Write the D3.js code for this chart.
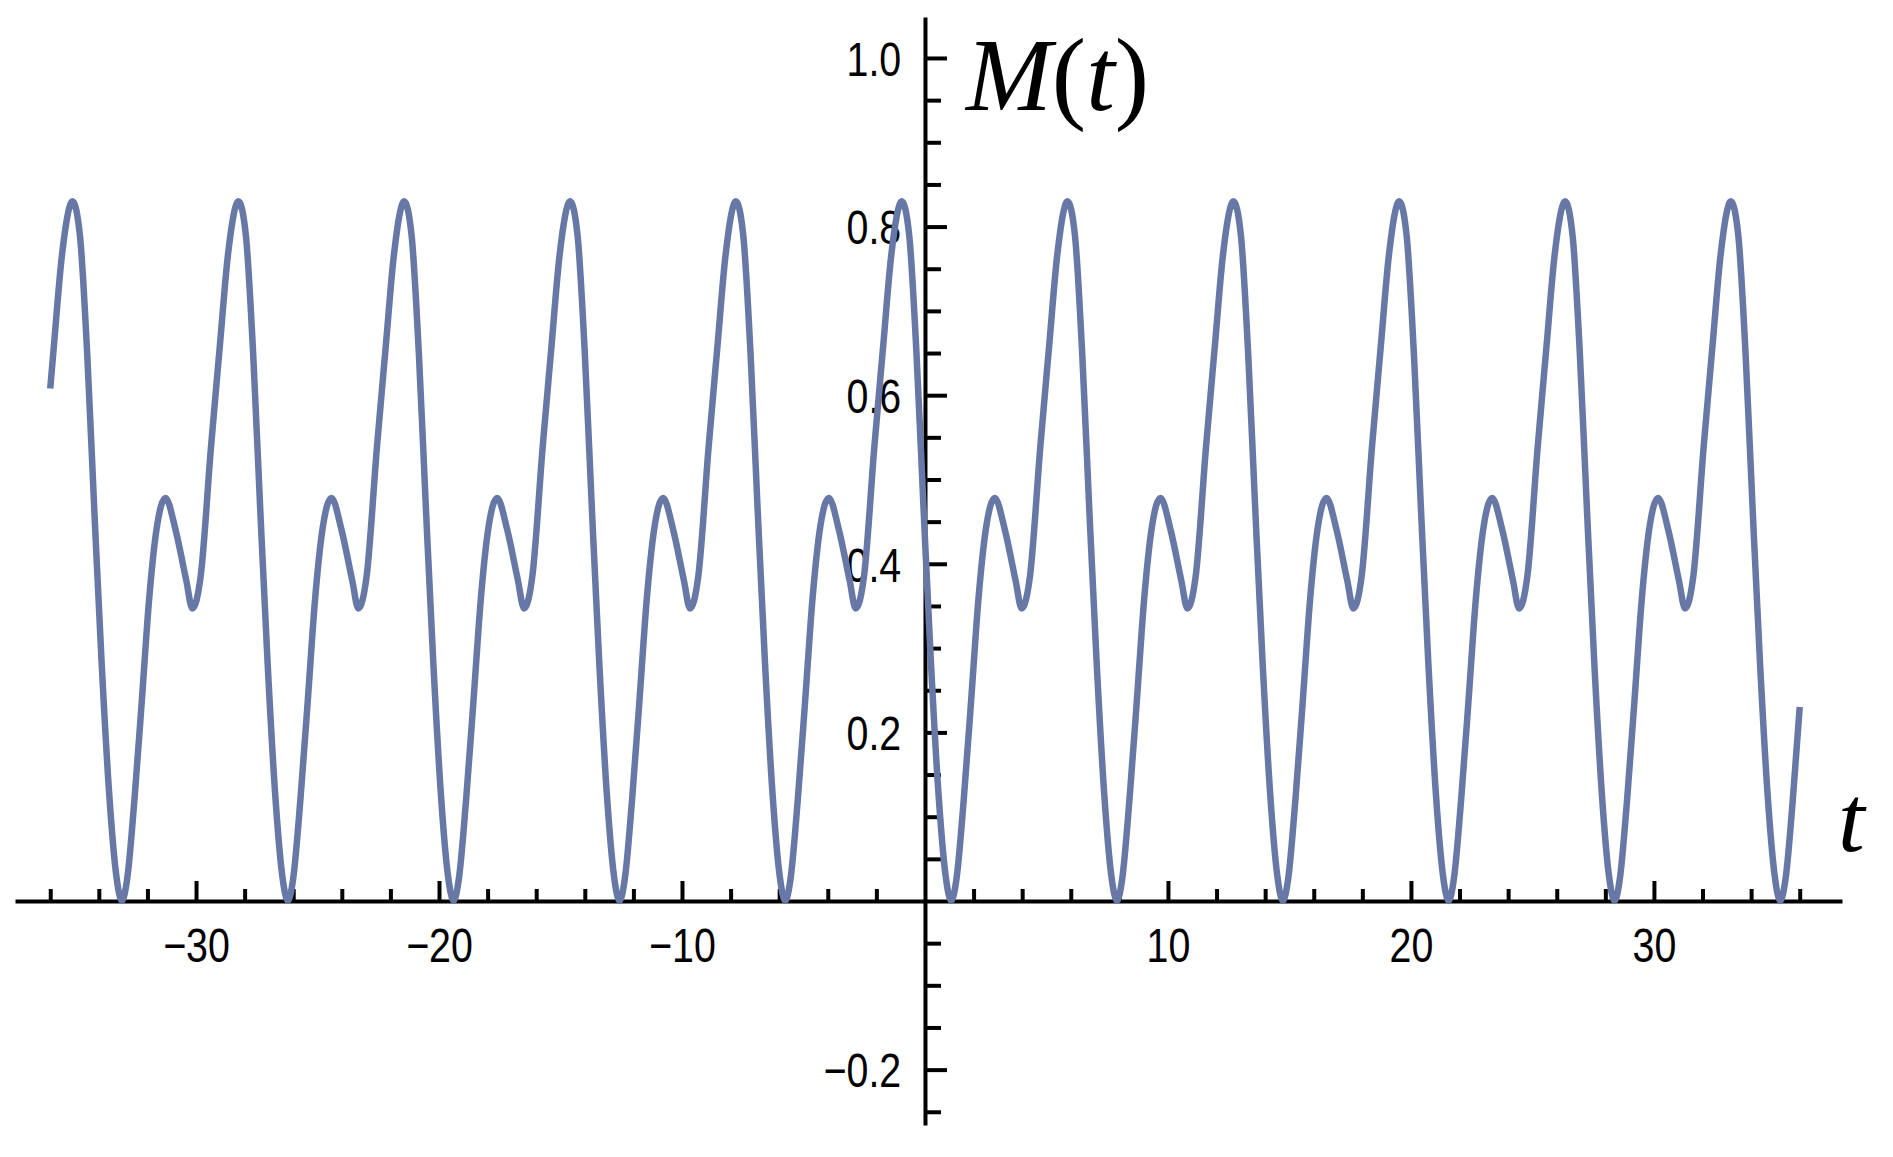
<!DOCTYPE html>
<html>
<head>
<meta charset="utf-8">
<script src="https://cdn.jsdelivr.net/npm/d3@7"></script>
<style>
html, body { margin: 0; padding: 0; background: #ffffff; }
svg { display: block; }
</style>
</head>
<body>
<svg id="chart" width="1893" height="1157"></svg>
<script>
// ---- data ----
const tValues = [
  -36.00, -35.86, -35.51,
  -35.08, -34.78, -34.48, -34.18, -33.88, -33.58, -33.28, -33.05, -32.83, -32.53, -32.23, -31.93, -31.63, -31.26, -30.84, -30.40, -30.15, -29.81, -29.38, -29.03, -28.68,
  -28.25, -27.95, -27.65, -27.35, -27.05, -26.75, -26.45, -26.22, -26.00, -25.70, -25.40, -25.10, -24.80, -24.43, -24.01, -23.57, -23.32, -22.98, -22.55, -22.20, -21.85,
  -21.43, -21.13, -20.83, -20.53, -20.23, -19.93, -19.63, -19.40, -19.18, -18.88, -18.58, -18.28, -17.98, -17.61, -17.19, -16.75, -16.50, -16.16, -15.73, -15.38, -15.03,
  -14.60, -14.30, -14.00, -13.70, -13.40, -13.10, -12.80, -12.57, -12.35, -12.05, -11.75, -11.45, -11.15, -10.78, -10.36, -9.92, -9.67, -9.33, -8.90, -8.55, -8.20,
  -7.78, -7.48, -7.18, -6.88, -6.58, -6.28, -5.98, -5.75, -5.53, -5.23, -4.93, -4.63, -4.33, -3.96, -3.54, -3.10, -2.85, -2.51, -2.08, -1.73, -1.38,
  -0.95, -0.65, -0.35, -0.05, 0.25, 0.55, 0.85, 1.08, 1.30, 1.60, 1.90, 2.20, 2.50, 2.87, 3.29, 3.73, 3.98, 4.32, 4.75, 5.10, 5.45,
  5.87, 6.17, 6.47, 6.77, 7.07, 7.37, 7.67, 7.90, 8.12, 8.42, 8.72, 9.02, 9.32, 9.69, 10.11, 10.55, 10.80, 11.14, 11.57, 11.92, 12.27,
  12.70, 13.00, 13.30, 13.60, 13.90, 14.20, 14.50, 14.73, 14.95, 15.25, 15.55, 15.85, 16.15, 16.52, 16.94, 17.38, 17.63, 17.97, 18.40, 18.75, 19.10,
  19.52, 19.82, 20.12, 20.42, 20.72, 21.02, 21.32, 21.55, 21.77, 22.07, 22.37, 22.67, 22.97, 23.34, 23.76, 24.20, 24.45, 24.79, 25.22, 25.57, 25.92,
  26.35, 26.65, 26.95, 27.25, 27.55, 27.85, 28.15, 28.38, 28.60, 28.90, 29.20, 29.50, 29.80, 30.17, 30.59, 31.03, 31.28, 31.62, 32.05, 32.40, 32.75,
  33.17, 33.47, 33.77, 34.07, 34.37, 34.67, 34.97, 35.20, 35.42, 35.72, 36.00
];
const mValues = [
  0.608, 0.655, 0.768,
  0.830, 0.790, 0.650, 0.460, 0.280, 0.130, 0.030, 0.000, 0.027, 0.122, 0.238, 0.358, 0.440, 0.478, 0.440, 0.380, 0.347, 0.385, 0.540, 0.655, 0.768,
  0.830, 0.790, 0.650, 0.460, 0.280, 0.130, 0.030, 0.000, 0.027, 0.122, 0.238, 0.358, 0.440, 0.478, 0.440, 0.380, 0.347, 0.385, 0.540, 0.655, 0.768,
  0.830, 0.790, 0.650, 0.460, 0.280, 0.130, 0.030, 0.000, 0.027, 0.122, 0.238, 0.358, 0.440, 0.478, 0.440, 0.380, 0.347, 0.385, 0.540, 0.655, 0.768,
  0.830, 0.790, 0.650, 0.460, 0.280, 0.130, 0.030, 0.000, 0.027, 0.122, 0.238, 0.358, 0.440, 0.478, 0.440, 0.380, 0.347, 0.385, 0.540, 0.655, 0.768,
  0.830, 0.790, 0.650, 0.460, 0.280, 0.130, 0.030, 0.000, 0.027, 0.122, 0.238, 0.358, 0.440, 0.478, 0.440, 0.380, 0.347, 0.385, 0.540, 0.655, 0.768,
  0.830, 0.790, 0.650, 0.460, 0.280, 0.130, 0.030, 0.000, 0.027, 0.122, 0.238, 0.358, 0.440, 0.478, 0.440, 0.380, 0.347, 0.385, 0.540, 0.655, 0.768,
  0.830, 0.790, 0.650, 0.460, 0.280, 0.130, 0.030, 0.000, 0.027, 0.122, 0.238, 0.358, 0.440, 0.478, 0.440, 0.380, 0.347, 0.385, 0.540, 0.655, 0.768,
  0.830, 0.790, 0.650, 0.460, 0.280, 0.130, 0.030, 0.000, 0.027, 0.122, 0.238, 0.358, 0.440, 0.478, 0.440, 0.380, 0.347, 0.385, 0.540, 0.655, 0.768,
  0.830, 0.790, 0.650, 0.460, 0.280, 0.130, 0.030, 0.000, 0.027, 0.122, 0.238, 0.358, 0.440, 0.478, 0.440, 0.380, 0.347, 0.385, 0.540, 0.655, 0.768,
  0.830, 0.790, 0.650, 0.460, 0.280, 0.130, 0.030, 0.000, 0.027, 0.122, 0.238, 0.358, 0.440, 0.478, 0.440, 0.380, 0.347, 0.385, 0.540, 0.655, 0.768,
  0.830, 0.790, 0.650, 0.460, 0.280, 0.130, 0.030, 0.000, 0.027, 0.122, 0.230
];
const xDomain = [-37.45, 37.74];
const yDomain = [-0.2657, 1.0486];
const xMajorTicks = [-30, -20, -10, 10, 20, 30];
const xMajorLabels = ["\u221230", "\u221220", "\u221210", "10", "20", "30"];
const xMinorTicks = [-36, -34, -32, -28, -26, -24, -22, -18, -16, -14, -12, -8, -6, -4, -2,
                     2, 4, 6, 8, 12, 14, 16, 18, 22, 24, 26, 28, 32, 34, 36];
const yMajorTicks = [-0.2, 0.2, 0.4, 0.6, 0.8, 1.0];
const yMajorLabels = ["\u22120.2", "0.2", "0.4", "0.6", "0.8", "1.0"];
const yMinorTicks = [-0.25, -0.15, -0.10, -0.05, 0.05, 0.10, 0.15, 0.25, 0.30, 0.35,
                     0.45, 0.50, 0.55, 0.65, 0.70, 0.75, 0.85, 0.90, 0.95];
const xAxisTitle = "t";

// ---- drawing ----
const svg = d3.select("#chart");
svg.append("rect").attr("width", 1893).attr("height", 1157).attr("fill", "#ffffff");

const x = d3.scaleLinear().domain(xDomain).range([15, 1842]);
const y = d3.scaleLinear().domain(yDomain).range([1125, 17]);

const labelFont = "'Liberation Sans', Arial, sans-serif";
const squeeze = "scale(0.82,1)";
const axisW = 4;

// x axis
const gxMinor = svg.append("g").attr("transform", `translate(0,${y(0)})`)
  .call(d3.axisBottom(x).tickValues(xMinorTicks).tickSize(-12).tickSizeOuter(0).tickFormat(""));
gxMinor.select(".domain").remove();
const gx = svg.append("g").attr("transform", `translate(0,${y(0)})`)
  .call(d3.axisBottom(x).tickValues(xMajorTicks).tickSize(-20).tickSizeOuter(0)
        .tickPadding(27).tickFormat((d, i) => xMajorLabels[i]));

// y axis
const gyMinor = svg.append("g").attr("transform", `translate(${x(0)},0)`)
  .call(d3.axisLeft(y).tickValues(yMinorTicks).tickSize(-16).tickSizeOuter(0).tickFormat(""));
gyMinor.select(".domain").remove();
const gy = svg.append("g").attr("transform", `translate(${x(0)},0)`)
  .call(d3.axisLeft(y).tickValues(yMajorTicks).tickSize(-22).tickSizeOuter(0)
        .tickPadding(29).tickFormat((d, i) => yMajorLabels[i]));

svg.selectAll(".domain").attr("stroke", "#000").attr("stroke-width", axisW);
svg.selectAll(".tick line").attr("stroke", "#000").attr("stroke-width", axisW);
svg.selectAll(".tick text")
  .attr("font-family", labelFont)
  .attr("font-size", 48)
  .attr("fill", "#000")
  .attr("transform", squeeze);
gx.selectAll("text").attr("dy", "0.71em");
gy.selectAll("text").attr("dy", "0.36em");

// curve
const data = tValues.map((t, i) => ({ t: t, m: mValues[i] }));
const line = d3.line().x(d => x(d.t)).y(d => y(d.m)).curve(d3.curveMonotoneX);
svg.append("path")
  .datum(data)
  .attr("d", line)
  .attr("fill", "none")
  .attr("stroke", "#6878a6")
  .attr("stroke-width", 6.5)
  .attr("stroke-linejoin", "round");

// axis titles
const serif = "'Liberation Serif', 'Times New Roman', serif";
const yt = svg.append("text")
  .attr("x", 966).attr("y", 110)
  .attr("font-family", serif).attr("font-size", 103).attr("fill", "#000");
yt.append("tspan").attr("font-style", "italic").text("M");
yt.append("tspan").text("(");
yt.append("tspan").attr("font-style", "italic").text("t");
yt.append("tspan").text(")");

svg.append("text")
  .attr("x", 1838).attr("y", 851)
  .attr("font-family", serif).attr("font-size", 96).attr("font-style", "italic")
  .attr("fill", "#000")
  .text(xAxisTitle);
</script>
</body>
</html>
